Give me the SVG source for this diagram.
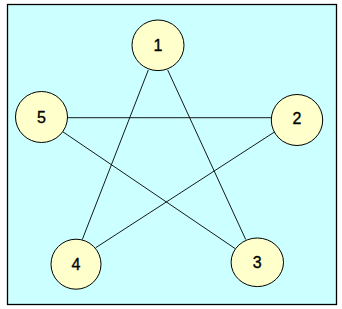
<svg xmlns="http://www.w3.org/2000/svg" width="342" height="309" viewBox="0 0 342 309">
<style>
.frame{fill:#CCFFFF;stroke:#000;stroke-width:1.3}
.node ellipse{fill:#FFFFCC;stroke:#000;stroke-width:1}
.node text{font-family:"Liberation Sans",Arial,sans-serif;font-size:16px;fill:#000;text-anchor:middle;stroke:#000;stroke-width:0.35}
.edges line{stroke:#000;stroke-width:0.9}
</style>
<rect class="frame" x="7.5" y="4.5" width="329" height="300"/>
<g class="edges">
<line x1="148.3" y1="70" x2="82.3" y2="239.5"/>
<line x1="167.7" y1="70" x2="245.7" y2="239.5"/>
<line x1="67" y1="117.7" x2="271.7" y2="117.7"/>
<line x1="61.7" y1="131" x2="235.3" y2="248.7"/>
<line x1="276" y1="131" x2="95.7" y2="247.7"/>
</g>
<g id="node1" class="node"><ellipse cx="158" cy="45.3" rx="26" ry="25.3"/><text x="158" y="51.2">1</text></g>
<g id="node2" class="node"><ellipse cx="297" cy="120" rx="25.7" ry="25.5"/><text x="297" y="124.2">2</text></g>
<g id="node3" class="node"><ellipse cx="257.3" cy="262.3" rx="26.2" ry="24.3"/><text x="257.3" y="268.2">3</text></g>
<g id="node4" class="node"><ellipse cx="76" cy="264.2" rx="25" ry="25"/><text x="76" y="270.1">4</text></g>
<g id="node5" class="node"><ellipse cx="41.5" cy="117" rx="26" ry="25.5"/><text x="41.5" y="122.9">5</text></g>
</svg>
